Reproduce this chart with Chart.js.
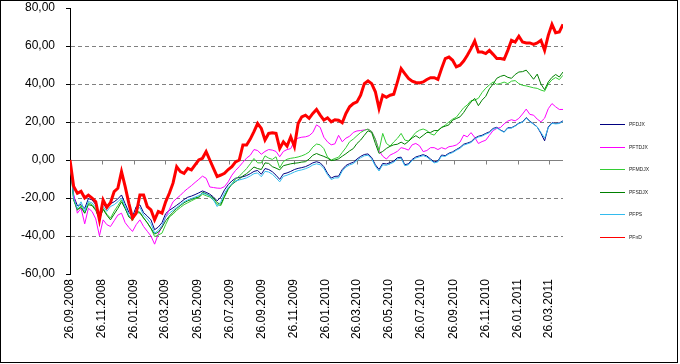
<!DOCTYPE html>
<html>
<head>
<meta charset="utf-8">
<script src="https://cdn.jsdelivr.net/npm/chart.js@4.4.0/dist/chart.umd.min.js"></script>
<style>
  body { margin: 0; background: #fff; }
  #wrap { width: 680px; height: 364px; }
</style>
</head>
<body>
<div id="wrap"><canvas id="chart" width="680" height="364"></canvas></div>
<script>
// weekly values (Friday closes), first point = 26.09.2008
const startDate = '26.09.2008';
const stepDays = 7;

const tickLabels = ['26.09.2008', '26.11.2008', '26.01.2009', '26.03.2009', '26.05.2009', '26.07.2009',
    '26.09.2009', '26.11.2009', '26.01.2010', '26.03.2010', '26.05.2010', '26.07.2010',
    '26.09.2010', '26.11.2010', '26.01.2011', '26.03.2011'];

const yTicks = [-60, -40, -20, 0, 20, 40, 60, 80];

const seriesNames = ['PFDJX', 'PFTDJX', 'PFMDJX', 'PFSDJX', 'PFPS', 'PFnD'];

const pfdjx = [
    0, -19, -24, -23.5, -25.5, -20.3, -21, -23.5, -28.9, -23,
    -25.5, -23, -22, -20.5, -18.4, -23, -27.5, -29.8, -24.5, -23.6,
    -27.7, -29.5, -31.5, -36.7, -35.3, -33, -28.2, -26.5, -25.2, -23.8,
    -22.4, -20.8, -19.6, -19, -18.2, -17.3, -16.3, -17, -18, -19.5,
    -21.5, -19.5, -15.7, -13, -11, -9.6, -9.2, -8.8, -8.2, -7.2,
    -6, -5.5, -7.5, -4.5, -5, -6.2, -8, -10.2, -7.3, -6.8,
    -6, -5, -4.4, -4, -3.5, -2.6, -1.5, -0.9, -1.5, -3.5,
    -7, -9.5, -8.6, -8.5, -5, -2.9, -1.9, -1.2, 0.5, 1.9,
    2.9, 3.2, 1.3, -2.5, -5, -1.8, -2.1, -1.4, -0.6, 1.2,
    1.5, -2.5, -2, 0.3, 1.6, 2.2, 2.8, 2.1, 0.5, -1,
    -0.5, 2.6, 2.3, 3.6, 4.3, 5.5, 6.6, 8.3, 8.9, 9.6,
    11.5, 12.5, 13, 14, 14.8, 16.6, 17.2, 15.8, 14.8, 17,
    17, 18, 19.4, 20.1, 22.3, 20.4, 19, 17.4, 14, 10.1,
    17.4, 19.6, 19.3, 19.5, 20.6
];

const pftdjx = [
    0, -18, -28, -25.4, -33.6, -25.4, -27.1, -31, -39.9, -31.5,
    -34, -35, -32, -29, -28, -33, -35.5, -37.6, -34, -31.5,
    -35, -37.5, -40, -44.3, -39, -35, -30, -26, -22, -20.2,
    -18.6, -16.6, -15, -13.5, -11.8, -10.2, -8.5, -9.6, -14.2, -14.5,
    -14.8, -14.9, -14, -11.5, -8, -5.5, -3.5, -1.2, 1, 2.5,
    5.5, 5, 3, 4.5, 5.5, 5.2, 4.5, 1.7, 4.5, 5.5,
    6, 10, 11.5, 12, 12.2, 12.8, 14.5, 18.5, 17.2, 12,
    9.5, 8, 8.5, 13, 9.6, 11.5, 12.5, 14.5, 15.3, 15.5,
    15.8, 16.2, 15, 11, 5, 2, 0.5, 2.6, 3.5, 4.6,
    6.5, 6, 5.2, 8, 8.7, 7.5, 4.4, 5, 6.5, 6.5,
    5.5, 6.5, 5.8, 7, 7.3, 7.9, 9.4, 13.1, 12.2, 14.4,
    11.9, 8.7, 9.7, 10.4, 13, 15.5, 16.6, 17.1, 19, 20.5,
    21.2, 20.6, 21.9, 24.2, 26.8, 24, 23.6, 21.5, 20.1, 22,
    27, 29.7, 28, 26.6, 26.6
];

const pfmdjx = [
    0, -21, -26.5, -24, -28, -22.5, -23.5, -26, -31, -25.5,
    -28.5, -30.6, -27, -24, -21, -25.5, -29.5, -32, -27.5, -28,
    -30.5, -33, -36, -40.3, -39.5, -38.5, -34, -30, -28.5, -26.5,
    -25, -23.5, -22.5, -21.5, -20.5, -19.8, -18, -18.8, -19.5, -21,
    -23.5, -24, -19.5, -15.5, -12.5, -10, -8.5, -6.6, -4.5, -2,
    0.8, -1.5, -1.5, 2.2, 1, 0.3, 1.7, -4.2, -0.8, 0.4,
    0.9, 1.2, 1.6, 2.2, 3, 4.2, 6.8, 8.4, 8, 6,
    1.5, 0, 0.8, 1.5, 4, 6.5, 9.6, 11, 12.8, 14.5,
    15.6, 16.3, 15, 11, 5, 14, 8.7, 7.3, 9.5, 11.4,
    14, 10.5, 10, 12.2, 14.5, 15.7, 16.3, 15.5, 13.8, 13.1,
    15.5, 17, 18.4, 20, 21.5, 22.5, 25, 27.5, 29, 31.3,
    31.5, 32.5, 35.5, 37.8, 39.5, 41.1, 39.8, 40.3, 41, 40.2,
    41.5, 41.8, 40.2, 39.3, 39, 38.5, 38, 37.7, 36.8, 36.2,
    40, 42.2, 43.4, 42.3, 44.6
];

const pfsdjx = [
    0, -21, -26, -25, -28, -23.5, -24, -26.5, -31, -26,
    -29, -31.5, -28.5, -25.5, -22, -25.5, -30, -31, -27, -27.5,
    -30.5, -33, -36, -39, -38, -35.5, -32, -29.5, -27.5, -25.5,
    -24, -22.5, -21.5, -20.8, -20, -19.5, -17, -17.8, -18.8, -20,
    -22.5, -23.3, -19, -15, -12.8, -11.4, -10, -8.4, -7.2, -5.5,
    -3.7, -4.5, -5, -1.5, -1.8, -3.5, -4.3, -5.2, -3, -2.5,
    -2, -1.7, -1.5, -1.1, -0.9, 0.5, 2.5, 3.4, 2.6, 1.9,
    1, -0.3, 0, 0.6, 2, 3.3, 4.8, 6, 8.7, 10.5,
    13, 15.4, 14.5, 8.7, 3.5, 4.5, 6.1, 7.2, 8, 8.3,
    9.4, 8.3, 9.8, 11.6, 12.8, 11.5, 13, 14.5, 14.5, 15.5,
    15.5, 17.2, 17.8, 18.5, 21, 21.8, 22.7, 25, 28, 30.5,
    32.4, 28.6, 31.5, 33.5, 37.5, 40, 43, 44, 44.6, 43.5,
    43, 45, 46.3, 46.5, 47.3, 45, 42.5, 45.2, 40, 37,
    41.1, 43.5, 45, 43.7, 46.3
];

const pfps = [
    0, -20.5, -25.5, -22, -27, -21.8, -22.6, -25, -30.5, -24.5,
    -27, -24.5, -23.5, -22, -20, -24.5, -29, -31.2, -26, -25,
    -29, -31, -33.5, -38.5, -37, -34.5, -30, -28, -26.5, -25,
    -23.5, -22, -21, -20.3, -19.5, -18.7, -17.5, -18, -19, -21,
    -24.5, -22, -17.5, -14.5, -12.5, -11, -10.5, -10, -9.4, -8.4,
    -7.2, -6.8, -8.8, -6, -6.3, -7.5, -9.4, -11.5, -8.6, -8,
    -7.2, -6.3, -5.6, -5.2, -4.6, -3.8, -2.6, -2, -2.5, -4.4,
    -7.8, -10.3, -9.4, -9.4, -5.8, -3.7, -2.6, -1.9, -0.3, 1.2,
    2.2, 2.5, 0.6, -3.2, -5.8, -2.5, -2.8, -2, -1.2, 0.6,
    0.9, -3, -2.5, -0.2, 1.1, 1.7, 2.3, 1.6, 0, -1.5,
    -1, 2.1, 1.9, 3.2, 3.9, 5.1, 6.2, 7.8, 8.5, 9.2,
    11, 12.1, 12.6, 13.6, 14.4, 16.2, 16.9, 15.6, 14.6, 16.7,
    16.8, 17.8, 19.2, 19.9, 22, 20.1, 18.8, 17.3, 14.5, 11.5,
    17, 19.3, 19, 19.2, 20.3
];

const pfnd = [
    0, -14, -17.5, -16.5, -20, -18.5, -20, -22, -31.5, -21,
    -25, -22.5, -16.6, -14.9, -6.1, -14, -22.8, -30.6, -28, -18.4,
    -18.4, -24.5, -26.2, -31.5, -27.1, -28, -22, -17.5, -12.2, -3.5,
    -6.1, -7, -4.4, -5.2, -2.6, 0, 0.9, 4.4, 0, -4.4,
    -8.7, -7.9, -7, -5, -3.5, -1, 0, 7.9, 7.9, 11,
    14.9, 19.2, 16.6, 10.5, 14, 14.3, 14, 6.1, 9.6, 7.3,
    12.2, 7, 19.2, 22.7, 23.6, 21.9, 24.5, 26.6, 23.6, 21,
    22.2, 20.1, 21.2, 20.9, 19.6, 24.5, 28, 29.7, 30.6, 34.1,
    40.2, 41.6, 40.2, 35.9, 27.1, 34.1, 33, 34.1, 34.6, 41.1,
    48.1, 45.5, 42.9, 41.5, 40.8, 40.6, 41.1, 42.4, 43.3, 43.3,
    42.4, 48.1, 53.4, 54.2, 52.5, 49, 49.9, 52.1, 55.1, 58.6,
    62.6, 56.8, 56.8, 56, 57.7, 55.6, 53.4, 53.4, 53, 57.7,
    63, 62.1, 65.1, 62.1, 61.6, 61.6, 60.9, 61.6, 63, 57.7,
    65.6, 71.4, 67, 67.4, 71.4
];

const FONT = '"Liberation Sans", Arial, sans-serif';

// days since the first date, for a "dd.mm.yyyy" string
function dayOf(s) {
    const [d, m, y] = s.split('.').map(Number);
    const [d0, m0, y0] = startDate.split('.').map(Number);
    return Math.round((Date.UTC(y, m - 1, d) - Date.UTC(y0, m0 - 1, d0)) / 86400000);
}

const tickDays = tickLabels.map(dayOf);
const lastDay = (pfnd.length - 1) * stepDays;

function points(values) {
    return values.map((v, i) => ({ x: i * stepDays, y: v }));
}

const allSeries = [pfdjx, pftdjx, pfmdjx, pfsdjx, pfps, pfnd];
const colors = ['#000080', '#ff00ff', '#33cc33', '#008000', '#33bbee', '#ff0000'];
const widths = [1, 1, 1, 1, 1, 3];

// zero line with date ticks, legend and outer frame, drawn like the Excel original
const excelLook = {
    id: 'excelLook',
    beforeDatasetsDraw(chart) {
        const { ctx, chartArea, scales } = chart;
        const y0 = Math.round(scales.y.getPixelForValue(0)) + 0.5;
        ctx.save();
        ctx.strokeStyle = '#808080';
        ctx.lineWidth = 1;
        ctx.beginPath();
        ctx.moveTo(chartArea.left, y0);
        ctx.lineTo(chartArea.right, y0);
        tickDays.forEach(d => {
            const x = Math.round(scales.x.getPixelForValue(d)) + 0.5;
            ctx.moveTo(x, y0);
            ctx.lineTo(x, y0 + 4);
        });
        ctx.stroke();
        ctx.restore();
    },
    afterDraw(chart) {
        const { ctx } = chart;
        ctx.save();
        seriesNames.forEach((name, k) => {
            const y = Math.round(124 + k * 22.5) + 0.5;
            ctx.strokeStyle = colors[k];
            ctx.lineWidth = 1;
            ctx.beginPath();
            ctx.moveTo(600, y);
            ctx.lineTo(625, y);
            ctx.stroke();
            ctx.fillStyle = '#222';
            ctx.font = '5px ' + FONT;
            ctx.textBaseline = 'middle';
            ctx.fillText(name, 629, y);
        });
        ctx.strokeStyle = '#000';
        ctx.strokeRect(0.5, 0.5, 677, 362);
        ctx.restore();
    }
};

window.onload = function () {
    const ctx = document.getElementById('chart').getContext('2d');
    new Chart(ctx, {
        type: 'line',
        data: {
            datasets: seriesNames.map((name, i) => ({
                label: name,
                data: points(allSeries[i]),
                borderColor: colors[i],
                backgroundColor: colors[i],
                borderWidth: widths[i],
                pointRadius: 0,
                tension: 0,
                fill: false,
                order: seriesNames.length - i
            }))
        },
        options: {
            responsive: false,
            animation: false,
            layout: { padding: { left: 0, right: 117, top: 8, bottom: 0 } },
            plugins: {
                legend: { display: false },
                tooltip: { enabled: false }
            },
            scales: {
                x: {
                    type: 'linear',
                    min: 0,
                    max: lastDay,
                    afterBuildTicks: scale => {
                        scale.ticks = tickDays.map(v => ({ value: v }));
                    },
                    afterFit: scale => {
                        scale.height = 90;
                        scale.paddingLeft = 0;
                        scale.paddingRight = 0;
                    },
                    grid: { display: false, drawTicks: false },
                    border: { display: false },
                    ticks: {
                        autoSkip: false,
                        minRotation: 90,
                        maxRotation: 90,
                        padding: 5,
                        color: '#000',
                        font: { family: FONT, size: 12 },
                        callback: (v, i) => tickLabels[i]
                    }
                },
                y: {
                    min: yTicks[0],
                    max: yTicks[yTicks.length - 1],
                    afterBuildTicks: scale => {
                        scale.ticks = yTicks.map(v => ({ value: v }));
                    },
                    afterFit: scale => {
                        scale.width = 70;
                        scale.paddingTop = 0;
                        scale.paddingBottom = 0;
                    },
                    grid: {
                        color: c => (c.tick && (c.tick.value === 0 || c.tick.value === 80 || c.tick.value === -60)) ? 'rgba(0,0,0,0)' : '#808080',
                        tickColor: '#000',
                        tickLength: 4,
                        lineWidth: 1
                    },
                    border: { display: true, color: '#000', width: 1, dash: [4, 3] },
                    ticks: {
                        padding: 11,
                        color: '#000',
                        font: { family: FONT, size: 12 },
                        callback: v => v.toFixed(2).replace('.', ',')
                    }
                }
            }
        },
        plugins: [excelLook]
    });
};
</script>
</body>
</html>
